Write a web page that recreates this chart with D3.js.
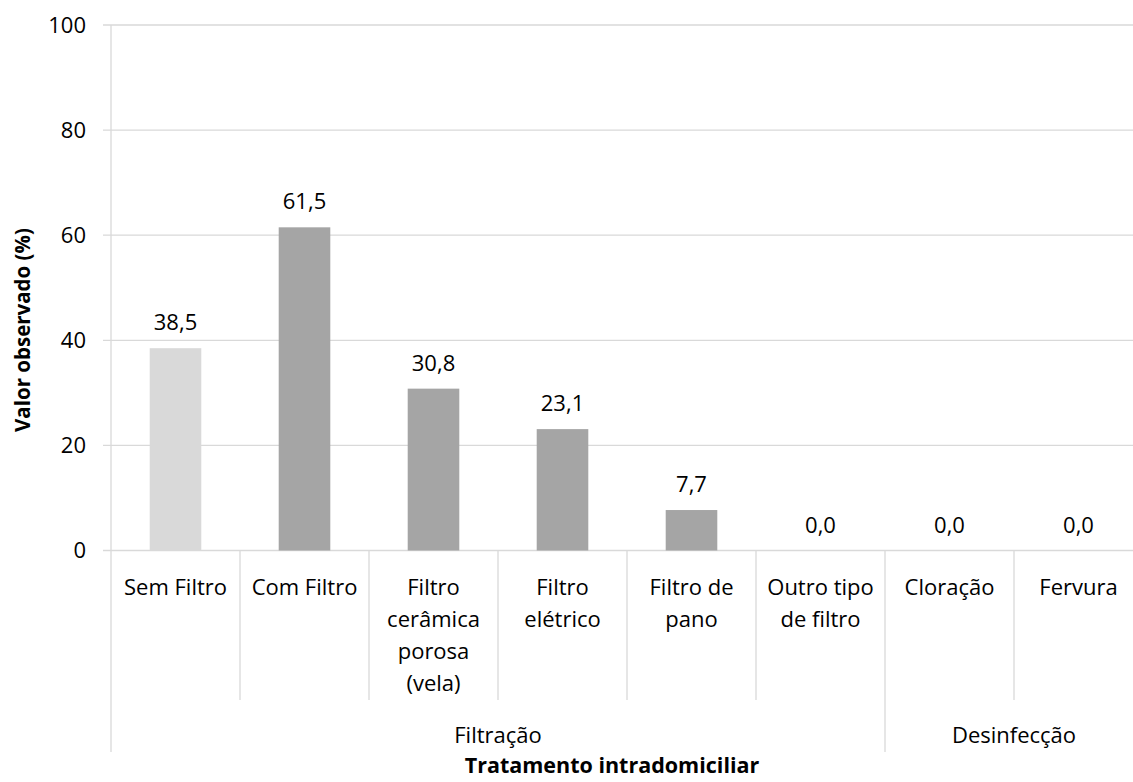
<!DOCTYPE html>
<html><head><meta charset="utf-8">
<script src="https://cdn.jsdelivr.net/npm/d3@7"></script>
<style>body{margin:0;background:#fff}svg text{font-family:"Open Sans",Lato,sans-serif;fill:#000}</style>
</head><body><svg id="c" width="1133" height="782"></svg>
<script>
const categories = ["Sem Filtro","Com Filtro","Filtro cerâmica porosa (vela)","Filtro elétrico","Filtro de pano","Outro tipo de filtro","Cloração","Fervura"];
const categoryLines = [["Sem Filtro"],["Com Filtro"],["Filtro","cerâmica","porosa","(vela)"],["Filtro","elétrico"],["Filtro de","pano"],["Outro tipo","de filtro"],["Cloração"],["Fervura"]];
const values = [38.5,61.5,30.8,23.1,7.7,0.0,0.0,0.0];
const groups = ["Filtração","Desinfecção"];
const groupSpans = [[0,5],[6,7]];
const yTicks = [0,20,40,60,80,100];
const barColors = ["#d9d9d9","#a5a5a5","#a5a5a5","#a5a5a5","#a5a5a5","#a5a5a5","#a5a5a5","#a5a5a5"];

const svg = d3.select("#c");
const pLeft = 111, pRight = 1143, pTop = 25, pBottom = 550.5;
const FS = "22px";
const x = d3.scaleBand().domain(categories).range([pLeft,pRight]).paddingInner(0.6).paddingOuter(0.3);
const y = d3.scaleLinear().domain([0,100]).range([pBottom,pTop]);
const step = x.step();
const fmt = v => d3.format(".1f")(v).replace(".",",");

svg.append("g").selectAll("line").data(yTicks).join("line")
  .attr("x1",pLeft-8).attr("x2",pRight).attr("y1",d=>y(d)).attr("y2",d=>y(d))
  .attr("stroke","#d9d9d9").attr("stroke-width",1.3);
svg.append("line").attr("x1",pLeft).attr("x2",pLeft).attr("y1",pTop).attr("y2",pBottom).attr("stroke","#d9d9d9").attr("stroke-width",1.3);
svg.append("g").selectAll("text").data(yTicks).join("text")
  .attr("x",86).attr("y",d=>y(d)).attr("dy","0.36em").attr("text-anchor","end")
  .style("font-size",FS).text(d=>d);

svg.append("g").selectAll("rect").data(values).join("rect")
  .attr("x",(d,i)=>x(categories[i])).attr("width",x.bandwidth())
  .attr("y",d=>y(d)).attr("height",d=>y(0)-y(d)).attr("fill",(d,i)=>barColors[i]);
svg.append("g").selectAll("text").data(values).join("text")
  .attr("x",(d,i)=>x(categories[i])+x.bandwidth()/2).attr("y",d=>y(d)-18)
  .attr("text-anchor","middle").style("font-size",FS).text(d=>fmt(d));

const catEdges = d3.range(1,categories.length).map(i=>pLeft+i*step);
const groupEdges = groupSpans.slice(1).map(s=>pLeft+s[0]*step);
svg.append("g").selectAll("line").data(catEdges.filter(e=>!groupEdges.some(g=>Math.abs(g-e)<1))).join("line")
  .attr("x1",d=>d).attr("x2",d=>d).attr("y1",pBottom).attr("y2",700).attr("stroke","#d9d9d9").attr("stroke-width",1.3);
svg.append("g").selectAll("line").data([pLeft].concat(groupEdges)).join("line")
  .attr("x1",d=>d).attr("x2",d=>d).attr("y1",pBottom).attr("y2",752).attr("stroke","#d9d9d9").attr("stroke-width",1.3);

const cl = svg.append("g").selectAll("text").data(categoryLines).join("text")
  .attr("text-anchor","middle").style("font-size",FS)
  .attr("transform",(d,i)=>`translate(${pLeft+(i+0.5)*step},595)`);
cl.selectAll("tspan").data(d=>d).join("tspan").attr("x",0).attr("y",(d,j)=>j*32).text(d=>d);

svg.append("g").selectAll("text").data(groups).join("text")
  .attr("x",(d,i)=>pLeft+(groupSpans[i][0]+groupSpans[i][1]+1)/2*step).attr("y",743)
  .attr("text-anchor","middle").style("font-size",FS).text(d=>d);

svg.append("text").attr("x",612).attr("y",773).attr("text-anchor","middle")
  .style("font-size","21.5px").style("font-weight","bold").text("Tratamento intradomiciliar");
svg.append("text").attr("transform","translate(30,330) rotate(-90)").attr("text-anchor","middle")
  .style("font-size","20.5px").style("font-weight","bold").text("Valor observado (%)");
</script></body></html>
